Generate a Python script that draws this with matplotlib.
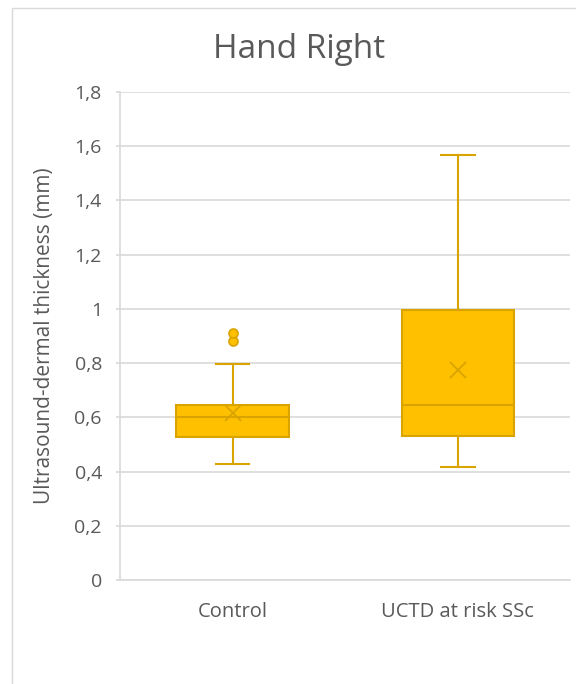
import matplotlib
matplotlib.use("Agg")
import matplotlib.pyplot as plt
from matplotlib.patches import Rectangle
from matplotlib.ticker import FuncFormatter

categories = ["Control", "UCTD at risk SSc"]
q1 = [0.527, 0.531]
median = [0.600, 0.645]
q3 = [0.645, 0.996]
whislo = [0.428, 0.417]
whishi = [0.797, 1.568]
means = [0.616, 0.775]
fliers = [[0.882, 0.911], []]

title = "Hand Right"
ylabel = "Ultrasound-dermal thickness (mm)"
yticks = [0, 0.2, 0.4, 0.6, 0.8, 1.0, 1.2, 1.4, 1.6, 1.8]

fill = "#FFC000"
edge = "#D9A400"
text_c = "#595959"
grid_c = "#D9D9D9"

plt.rcParams['font.family'] = ['Open Sans', 'DejaVu Sans']

fig = plt.figure(figsize=(5.76, 6.84), dpi=100)
ax = fig.add_axes([0.2083, 0.152, 0.782, 0.7135])

stats = []
for i, c in enumerate(categories):
    stats.append(dict(label=c, q1=q1[i], med=median[i], q3=q3[i],
                      whislo=whislo[i], whishi=whishi[i], mean=means[i],
                      fliers=fliers[i]))

ax.bxp(stats, positions=[0, 1], widths=0.5, patch_artist=True,
       showmeans=True, showfliers=True,
       boxprops=dict(facecolor=fill, edgecolor=edge, linewidth=1.5),
       medianprops=dict(color=edge, linewidth=1.5),
       whiskerprops=dict(color=edge, linewidth=1.5),
       capprops=dict(color=edge, linewidth=1.5),
       capwidths=0.15,
       meanprops=dict(marker='x', markeredgecolor=edge, markersize=11, markeredgewidth=1.3),
       flierprops=dict(marker='o', markerfacecolor=fill, markeredgecolor=edge, markersize=6.5, markeredgewidth=1.2))

ax.set_xlim(-0.5, 1.5)
ax.set_ylim(0, 1.8)
ax.set_yticks(yticks)
ax.yaxis.set_major_formatter(FuncFormatter(lambda v, p: ("%g" % round(v, 1)).replace(".", ",")))
ax.yaxis.grid(True, color=grid_c, linewidth=1.2)
ax.set_axisbelow(True)
for s in ["top", "right"]:
    ax.spines[s].set_visible(False)
for s in ["bottom", "left"]:
    ax.spines[s].set_color(grid_c)
    ax.spines[s].set_linewidth(1.2)
ax.tick_params(axis='x', length=0, colors=text_c, labelsize=14.5, pad=16)
ax.tick_params(axis='y', length=3, width=1.2, color=grid_c, labelcolor=text_c, labelsize=14, pad=10)
ax.set_ylabel(ylabel, color=text_c, fontsize=15, labelpad=14)

fig.text(299/576, 1 - 49/684, title, color=text_c, fontsize=24, ha='center', va='center')

fig.patches.append(Rectangle((12/576, -0.1), 1.0, 1.1 - 8/684,
                             transform=fig.transFigure, fill=False,
                             edgecolor=grid_c, linewidth=1.0))

fig.savefig("out.png", dpi=100, facecolor="white")
